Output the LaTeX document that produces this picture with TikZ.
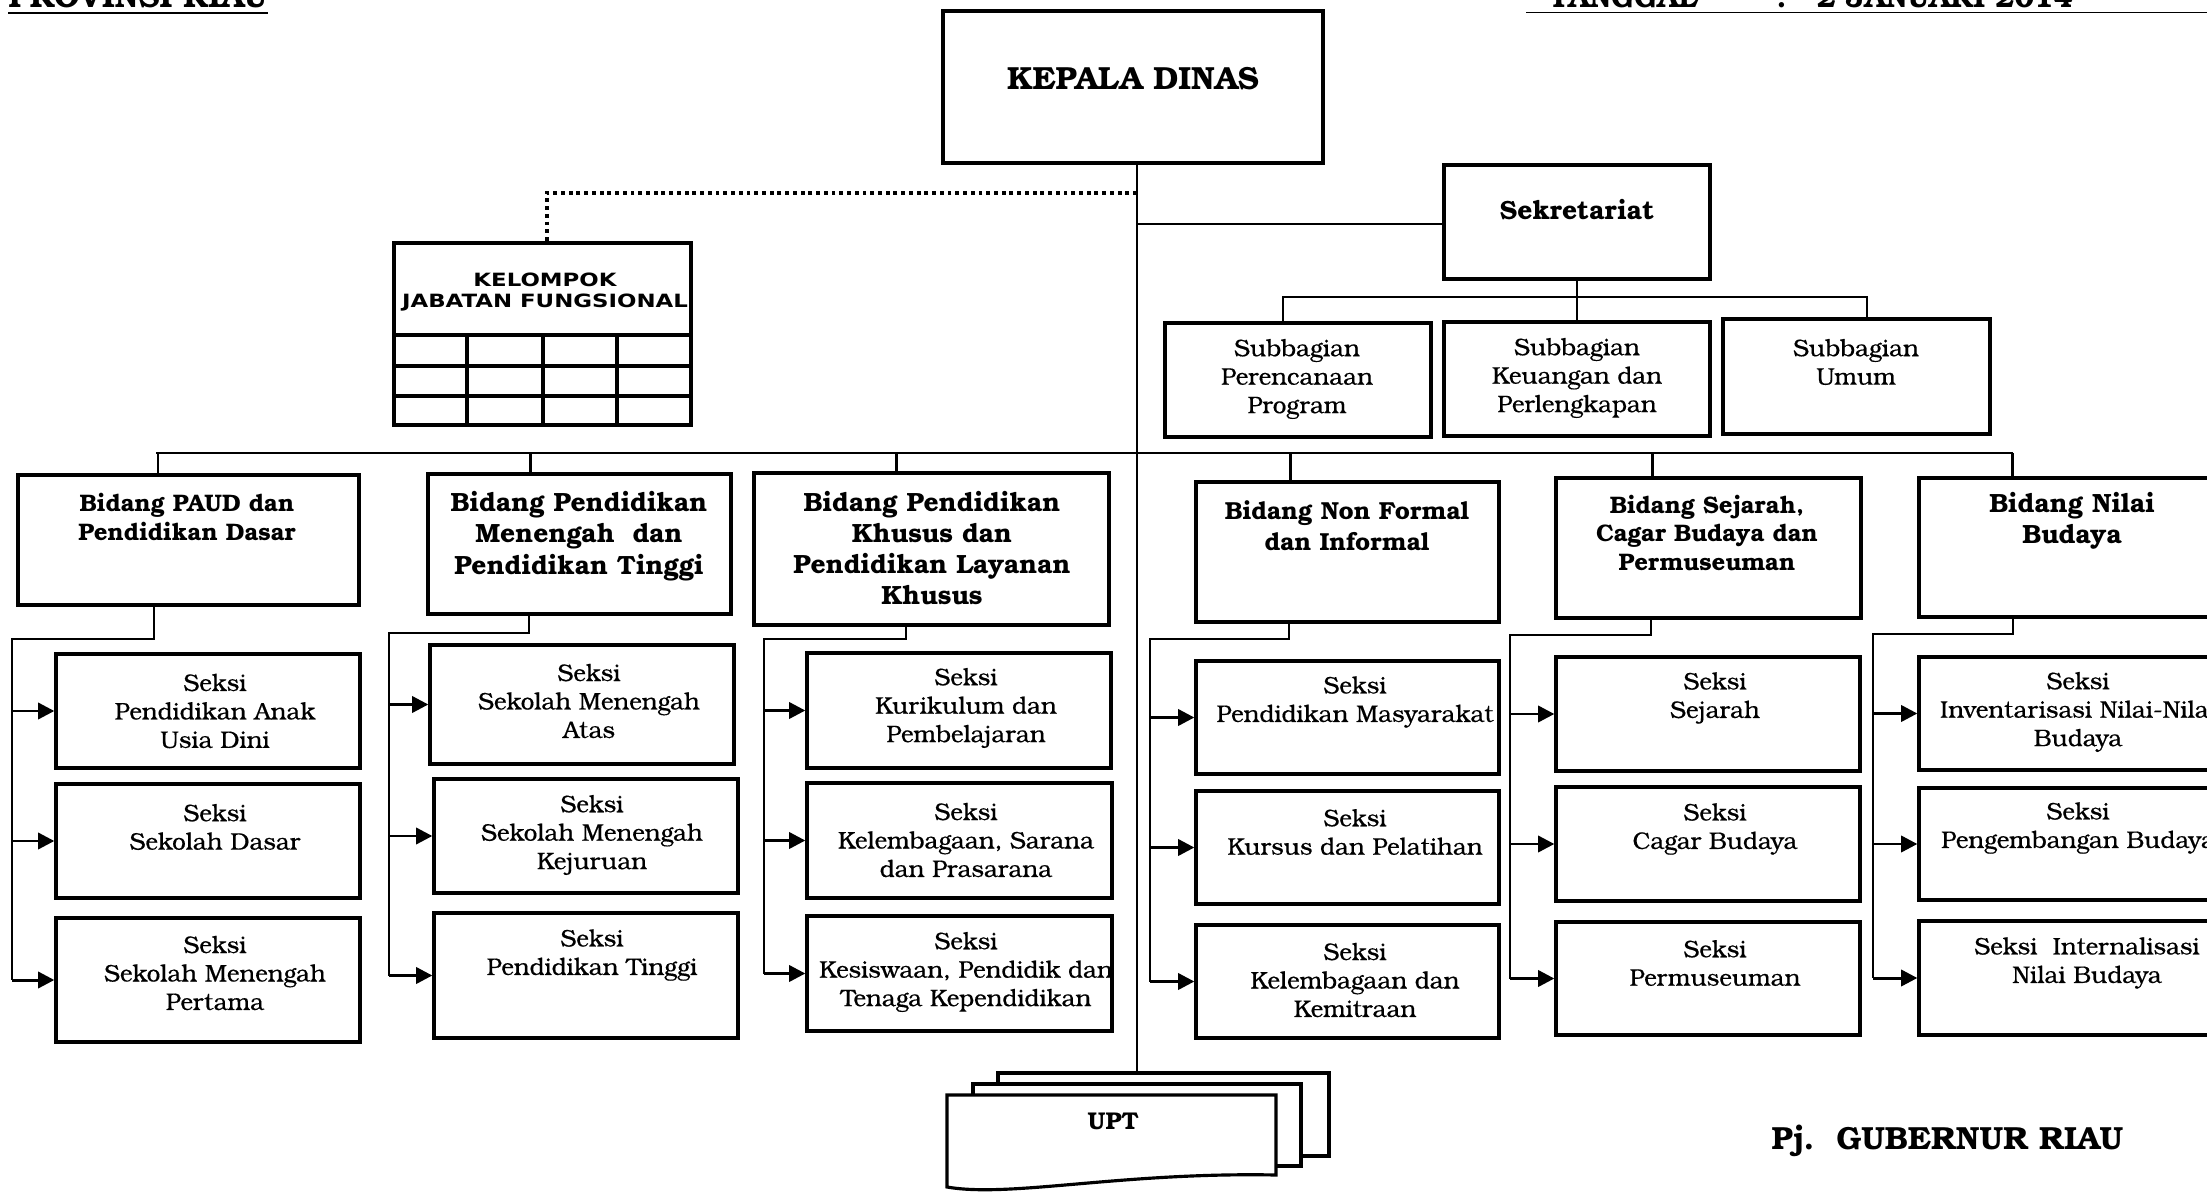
\documentclass[tikz,border=0pt]{standalone}
\usepackage{fontspec}
\setmainfont{texgyrebonum}[Extension=.otf,UprightFont=*-regular,BoldFont=*-bold,ItalicFont=*-italic,BoldItalicFont=*-bolditalic,UprightFeatures={FakeBold=0.5}]
\newfontfamily\kjfont{DejaVu Sans}[FakeStretch=1.25]
\usetikzlibrary{arrows.meta}
\newcommand\fsec{\fontsize{6.83}{8.1}\selectfont}
\newcommand\ftop{\fontsize{9.1}{10}\selectfont\bfseries}
\newcommand\ftgl{\fontsize{8.4}{10}\selectfont\bfseries}
\newcommand\mybox[5]{\node[bx,minimum width={(#4-#2)*0.1mm},minimum height={(#5-#3)*0.1mm}] (#1) at ({(#2+#4)/2},{(#3+#5)/2}) {};}
\begin{document}
\begin{tikzpicture}[x=0.1mm,y=-0.1mm,
  bx/.style={draw,line width=0.95pt,fill=white,inner sep=0pt},
  conn/.style={line width=0.45pt},
  drop/.style={line width=0.85pt},
  arr/.style={line width=0.85pt,-{Triangle[length=4.6pt,width=4.6pt]}},
  tx/.style={inner sep=0pt,align=center,font=\fsec},
  bt/.style={inner sep=0pt,align=center},
  dots/.style={line width=1.1pt,dash pattern=on 1.1pt off 1.1pt},
  upt/.style={draw,fill=white,line width=0.9pt}]
\useasboundingbox (0,0) rectangle (2207,1192);
\clip (0,0) rectangle (2207,1192);
\fill[white] (0,0) rectangle (2207,1192);

% header texts
\node[anchor=base west,inner sep=0pt,font=\ftop] (prov) at (8,8) {PROVINSI RIAU};
\draw[line width=0.55pt] ([yshift=-1.35pt]prov.base west) -- ([yshift=-1.35pt]prov.base east);
\node[anchor=base west,inner sep=0pt,font=\ftgl] (tgl) at (1548,8) {TANGGAL};
\node[anchor=base west,inner sep=0pt,font=\ftgl] (tglc) at (1776,8) {:};
\node[anchor=base west,inner sep=0pt,font=\ftgl] (tgld) at (1816,8) {2 JANUARI 2014};
\coordinate (tglL) at (1526,12.5);
\coordinate (tglR) at (2207,12.5);
\draw[line width=0.55pt] (tglL) -- (tglR);

% Kepala Dinas
\mybox{kd}{943}{11}{1323}{163}
\node[bt,font={\fontsize{9.1}{10}\selectfont\bfseries}] (kdt) at (1133,79) {KEPALA DINAS};
\coordinate (mtop) at (1137,163);
\coordinate (upttop) at (1137,1073);
\draw[conn] (mtop) -- (upttop);

% Kelompok jabatan fungsional
\mybox{kj}{394}{243}{691}{425}
\foreach \yy in {335,366,396} \draw[line width=0.95pt] (394,\yy) -- (691,\yy);
\foreach \xx in {467,543,617} \draw[line width=0.95pt] (\xx,335) -- (\xx,425);
\node[bt,font={\kjfont\fontsize{5.2}{6}\selectfont\bfseries}] (kjt) at (545,292) {KELOMPOK\\JABATAN FUNGSIONAL};
\coordinate (dotR) at (1137,193);
\coordinate (dotL) at (547,193);
\draw[dots] (dotR) -- (dotL) -- (dotL |- kj.north);

% Sekretariat
\mybox{sek}{1444}{165}{1710}{279}
\node[bt,font={\fontsize{7.5}{9}\selectfont\bfseries}] (sekt) at (1577,210) {Sekretariat};
\coordinate (skj) at (1137,224);
\draw[conn] (skj) -- (skj -| sek.west);
\mybox{sp}{1165}{323}{1431}{437}
\mybox{sk}{1444}{322}{1710}{436}
\mybox{su}{1723}{319}{1990}{434}
\coordinate (sb) at (1577,297);
\coordinate (sbl) at (1283,297);
\coordinate (sbr) at (1867,297);
\draw[conn] (sek.south -| sb) -- (sb) -- (sb |- sk.north);
\draw[conn] (sbl |- sp.north) -- (sbl) -- (sbr) -- (sbr |- su.north);
\node[tx] (spt) at (1297,379) {Subbagian\\Perencanaan\\Program};
\node[tx] (skt) at (1577,378) {Subbagian\\Keuangan dan\\Perlengkapan};
\node[tx] (sut) at (1856,362) {Subbagian\\Umum};

% Bus and bidang
\coordinate (busL) at (156,453);
\coordinate (busR) at (2013,453);
\draw[conn] (busL) -- (busR);
\mybox{b1}{18}{475}{359}{605}
\mybox{b2}{428}{474}{731}{614}
\mybox{b3}{754}{473}{1109}{625}
\mybox{b4}{1196}{482}{1499}{622}
\mybox{b5}{1556}{478}{1861}{618}
\mybox{b6}{1919}{478}{2223}{617}
\coordinate (d1) at (158,453);
\coordinate (d2) at (530,453);
\coordinate (d3) at (896,453);
\coordinate (d4) at (1290,453);
\coordinate (d5) at (1652,453);
\coordinate (d6) at (2012,453);
\foreach \i in {1,...,6} \draw[drop] (d\i) -- (d\i |- b\i.north);
\node[bt,font={\fontsize{6.8}{8}\selectfont\bfseries}] (b1t) at (187,517) {Bidang PAUD dan\\Pendidikan Dasar};
\node[bt,font={\fontsize{7.5}{8.9}\selectfont\bfseries}] (b2t) at (579,536) {Bidang Pendidikan\\Menengah\ \ dan\\Pendidikan Tinggi};
\node[bt,font={\fontsize{7.5}{8.8}\selectfont\bfseries}] (b3t) at (932,548) {Bidang Pendidikan\\Khusus dan\\Pendidikan Layanan\\Khusus};
\node[bt,font={\fontsize{7.0}{8.8}\selectfont\bfseries}] (b4t) at (1347,526) {Bidang Non Formal\\dan Informal};
\node[bt,font={\fontsize{6.8}{8}\selectfont\bfseries}] (b5t) at (1707,533) {Bidang Sejarah,\\Cagar Budaya dan\\Permuseuman};
\node[bt,font={\fontsize{7.5}{8.8}\selectfont\bfseries}] (b6t) at (2072,521) {Bidang Nilai\\Budaya};

% Seksi boxes
\mybox{s11}{56}{654}{360}{768}
\mybox{s12}{56}{784}{360}{898}
\mybox{s13}{56}{918}{360}{1042}
\mybox{s21}{430}{645}{734}{764}
\mybox{s22}{434}{779}{738}{893}
\mybox{s23}{434}{913}{738}{1038}
\mybox{s31}{807}{653}{1111}{768}
\mybox{s32}{807}{783}{1112}{898}
\mybox{s33}{807}{916}{1112}{1031}
\mybox{s41}{1196}{661}{1499}{774}
\mybox{s42}{1196}{791}{1499}{904}
\mybox{s43}{1196}{925}{1499}{1038}
\mybox{s51}{1556}{657}{1860}{771}
\mybox{s52}{1556}{787}{1860}{901}
\mybox{s53}{1556}{922}{1860}{1035}
\mybox{s61}{1919}{657}{2223}{770}
\mybox{s62}{1919}{788}{2223}{900}
\mybox{s63}{1919}{921}{2223}{1035}

% group connectors
\coordinate (g1a) at (154,639);  \coordinate (g1b) at (12,639);
\coordinate (g2a) at (529,633);  \coordinate (g2b) at (389,633);
\coordinate (g3a) at (906,639);  \coordinate (g3b) at (764,639);
\coordinate (g4a) at (1289,639); \coordinate (g4b) at (1150,639);
\coordinate (g5a) at (1651,635); \coordinate (g5b) at (1510,635);
\coordinate (g6a) at (2013,634); \coordinate (g6b) at (1873,634);
\foreach \g in {1,...,6} {
  \draw[conn] (b\g.south -| g\g a) -- (g\g a) -- (g\g b) -- (g\g b |- s\g3.west);
  \foreach \k in {1,2,3} \draw[arr] (g\g b |- s\g\k.west) -- (s\g\k.west);
}

% Seksi texts
\node[tx] (s11t) at (215,711) {Seksi\\Pendidikan Anak\\Usia Dini};
\node[tx] (s12t) at (215,827) {Seksi\\Sekolah Dasar};
\node[tx] (s13t) at (215,973) {Seksi\\Sekolah Menengah\\Pertama};
\node[tx] (s21t) at (589,701) {Seksi\\Sekolah Menengah\\Atas};
\node[tx] (s22t) at (592,835) {Seksi\\Sekolah Menengah\\Kejuruan};
\node[tx] (s23t) at (592,955) {Seksi\\Pendidikan Tinggi};
\node[tx] (s31t) at (966,708) {Seksi\\Kurikulum dan\\Pembelajaran};
\node[tx] (s32t) at (966,840) {Seksi\\Kelembagaan, Sarana\\dan Prasarana};
\begin{scope}
\clip (807,916) rectangle (1110,1031);
\node[tx] (s33t) at (966,972) {Seksi\\Kesiswaan, Pendidik dan\\Tenaga Kependidikan};
\end{scope}
\node[tx] (s41t) at (1355,702) {Seksi\\Pendidikan Masyarakat};
\node[tx] (s42t) at (1355,832) {Seksi\\Kursus dan Pelatihan};
\node[tx] (s43t) at (1355,980) {Seksi\\Kelembagaan dan\\Kemitraan};
\node[tx] (s51t) at (1715,698) {Seksi\\Sejarah};
\node[tx] (s52t) at (1715,829) {Seksi\\Cagar Budaya};
\node[tx] (s53t) at (1715,963) {Seksi\\Permuseuman};
\node[tx] (s61t) at (2078,712) {Seksi\\Inventarisasi Nilai-Nilai\\Budaya};
\node[tx] (s62t) at (2078,828) {Seksi\\Pengembangan Budaya};
\node[tx] (s63t) at (2087,963) {Seksi\ \ Internalisasi\\Nilai Budaya};

% UPT
\filldraw[upt] (998,1073) -- (1329,1073) -- (1329,1156) -- (998,1156) -- cycle;
\filldraw[upt] (973,1084) -- (1301,1084) -- (1301,1166) -- (973,1166) -- cycle;
\filldraw[upt] (947,1095) -- (1276,1095) -- (1276,1175) .. controls (1120,1172) and (1010,1198) .. (947,1187) -- cycle;
\node[bt,font={\fontsize{6.9}{8}\selectfont\bfseries}] (upt) at (1113,1121) {UPT};

% signature
\node[anchor=base west,inner sep=0pt,font=\ftop] (pj) at (1771,1149) {Pj.\ \ GUBERNUR RIAU};
\end{tikzpicture}
\end{document}
